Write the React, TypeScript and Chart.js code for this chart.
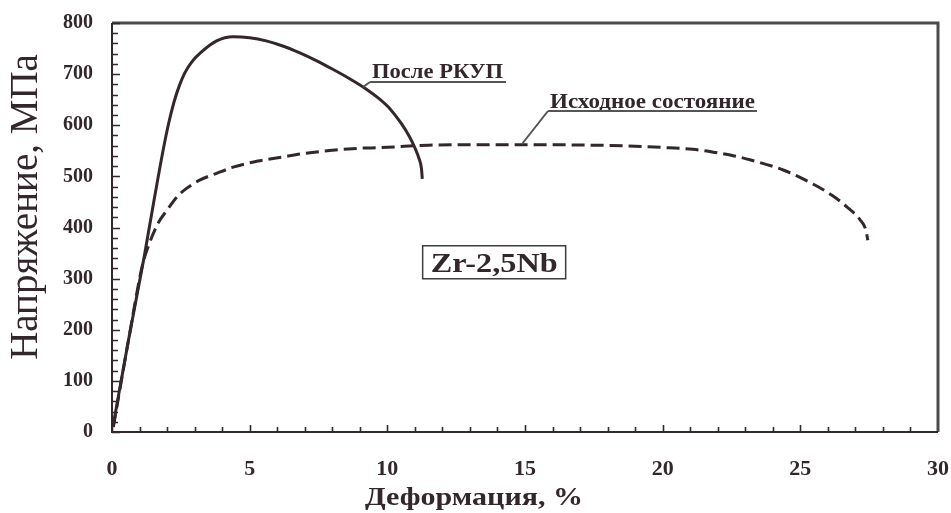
import React, { useEffect, useRef } from "react";
import { Chart, registerables } from "chart.js";

Chart.register(...registerables);

const afterEcapX = [0.05, 0.6, 1.17, 1.5, 1.86, 2.05, 2.25, 2.45, 2.65, 2.9, 3.2, 3.8, 4.4, 5.0, 5.6, 6.2, 6.8, 7.4, 8.0, 8.6, 9.2, 9.7, 10.1, 10.5, 10.8, 11.0, 11.15, 11.24, 11.27];
const afterEcapY = [15, 180, 343, 445, 552, 602, 645, 678, 703, 724, 741, 765, 773, 771, 765, 755, 742, 727, 710, 692, 672, 652, 632, 604, 578, 556, 535, 515, 495];

const initialX = [0.05, 0.6, 1.1, 1.31, 1.67, 2.0, 2.4, 2.72, 3.2, 3.8, 4.4, 5.3, 6.2, 7.0, 8.0, 9.0, 10.0, 11.5, 13, 15, 17.5, 19.0, 20.2, 21.1, 22.0, 22.6, 23.2, 24.4, 25.46, 26.15, 26.7, 27.17, 27.38, 27.45];
const initialY = [10, 180, 325, 362, 408, 434, 462, 477, 493, 506, 518, 530, 538, 545, 551, 555, 557, 561, 562, 562, 561, 559, 556, 553, 546, 540, 532, 512, 485, 463, 440, 415, 395, 375];

const seriesNames = ["После РКУП", "Исходное состояние"];
const alloyLabel = "Zr-2,5Nb";
const xTitle = "Деформация, %";
const yTitle = "Напряжение, МПа";
const xMin = 0, xMax = 30, xStep = 5;
const yMin = 0, yMax = 800, yStep = 100;

const INK = "#33262c";
const SERIF = '"Liberation Serif", "Times New Roman", serif';

function drawStretched(ctx: CanvasRenderingContext2D, text: string, cx: number, baseline: number, font: string, width: number) {
  ctx.save();
  ctx.font = font;
  const w = ctx.measureText(text).width;
  const s = width / w;
  ctx.translate(cx, baseline);
  ctx.scale(s, 1);
  ctx.textAlign = "center";
  ctx.textBaseline = "alphabetic";
  ctx.fillText(text, 0, 0);
  ctx.restore();
}

const decorPlugin = {
  id: "decor",
  afterDraw(chart: any) {
    const { ctx, chartArea: a, scales } = chart;
    const xs = scales.x, ys = scales.y;
    ctx.save();
    ctx.strokeStyle = "#4a4a4a";
    ctx.lineWidth = 3;
    ctx.beginPath();
    ctx.moveTo(a.left, a.top);
    ctx.lineTo(a.right, a.top);
    ctx.lineTo(a.right, a.bottom);
    ctx.stroke();
    ctx.strokeStyle = INK;
    ctx.lineWidth = 2;
    ctx.beginPath();
    ctx.moveTo(a.left, a.top);
    ctx.lineTo(a.left, a.bottom);
    ctx.lineTo(a.right, a.bottom);
    ctx.stroke();
    ctx.lineWidth = 1.6;
    ctx.beginPath();
    for (let v = yMin; v <= yMax; v += 20) {
      const py = Math.round(ys.getPixelForValue(v)) + 0.5;
      const len = v % yStep === 0 ? 8 : 6;
      ctx.moveTo(a.left, py);
      ctx.lineTo(a.left + len, py);
    }
    for (let v = xMin; v < xMax; v += 1) {
      const px = Math.round(xs.getPixelForValue(v)) + 0.5;
      const len = v % xStep === 0 ? 7 : 5;
      ctx.moveTo(px, a.bottom);
      ctx.lineTo(px, a.bottom - len);
    }
    ctx.stroke();

    ctx.fillStyle = INK;
    ctx.save();
    ctx.font = `39px ${SERIF}`;
    ctx.translate(37, 207);
    ctx.rotate(-Math.PI / 2);
    ctx.textAlign = "center";
    ctx.textBaseline = "alphabetic";
    ctx.fillText(yTitle, 0, 0);
    ctx.restore();
    drawStretched(ctx, xTitle, 474, 505, `bold 25px ${SERIF}`, 218);

    const bx = xs.getPixelForValue(13.88), by = ys.getPixelForValue(332);
    ctx.strokeStyle = "#3d3d3d";
    ctx.lineWidth = 1.5;
    ctx.strokeRect(bx - 71.5, by - 16.5, 143, 33);
    drawStretched(ctx, alloyLabel, bx, by + 10, `bold 28px ${SERIF}`, 127);

    ctx.strokeStyle = "#555";
    ctx.lineWidth = 2;
    drawStretched(ctx, seriesNames[0], 437.5, 78, `bold 20px ${SERIF}`, 131);
    ctx.beginPath();
    ctx.moveTo(370, 82); ctx.lineTo(506, 82);
    ctx.moveTo(370, 82); ctx.lineTo(363, 87);
    ctx.stroke();
    drawStretched(ctx, seriesNames[1], 652.5, 108, `bold 20px ${SERIF}`, 205);
    ctx.beginPath();
    ctx.moveTo(548, 111); ctx.lineTo(757, 111);
    ctx.moveTo(548, 111); ctx.lineTo(522, 144);
    ctx.stroke();
    ctx.restore();
  },
};

const whiteBg = {
  id: "whiteBg",
  beforeDraw(chart: any) {
    const { ctx, width, height } = chart;
    ctx.save();
    ctx.fillStyle = "#fff";
    ctx.fillRect(0, 0, width, height);
    ctx.restore();
  },
};

export default function App() {
  const ref = useRef<HTMLCanvasElement>(null);
  useEffect(() => {
    if (!ref.current) return;
    const chart = new Chart(ref.current, {
      type: "line",
      data: {
        datasets: [
          {
            label: seriesNames[0],
            data: afterEcapX.map((x, i) => ({ x, y: afterEcapY[i] })),
            borderColor: INK,
            borderWidth: 3,
            pointRadius: 0,
            cubicInterpolationMode: "monotone",
            fill: false,
          },
          {
            label: seriesNames[1],
            data: initialX.map((x, i) => ({ x, y: initialY[i] })),
            borderColor: INK,
            borderWidth: 3,
            borderDash: [13, 6],
            pointRadius: 0,
            cubicInterpolationMode: "monotone",
            fill: false,
          },
        ],
      },
      options: {
        animation: false,
        responsive: true,
        maintainAspectRatio: false,
        layout: { padding: { left: 0, top: 23, right: 13, bottom: 0 } },
        plugins: { legend: { display: false }, tooltip: { enabled: false } },
        scales: {
          x: {
            type: "linear",
            min: xMin,
            max: xMax,
            grid: { display: false, drawTicks: false },
            border: { display: false },
            ticks: {
              stepSize: xStep,
              color: INK,
              padding: 24,
              font: { family: SERIF, size: 22, weight: "bold" },
            },
            afterFit: (s: any) => {
              s.height = 81;
              s.paddingLeft = 0; s.paddingRight = 0; s.paddingTop = 0; s.paddingBottom = 0;
            },
          },
          y: {
            type: "linear",
            min: yMin,
            max: yMax,
            grid: { display: false, drawTicks: false },
            border: { display: false },
            ticks: {
              stepSize: yStep,
              color: INK,
              padding: 19,
              font: { family: SERIF, size: 20, weight: "bold" },
            },
            afterFit: (s: any) => {
              s.width = 112;
              s.paddingLeft = 0; s.paddingRight = 0; s.paddingTop = 0; s.paddingBottom = 0;
            },
          },
        },
      },
      plugins: [whiteBg, decorPlugin],
    } as any);
    return () => chart.destroy();
  }, []);
  return (
    <div style={{ position: "absolute", left: 0, top: 0, width: 951, height: 513 }}>
      <canvas ref={ref} />
    </div>
  );
}
